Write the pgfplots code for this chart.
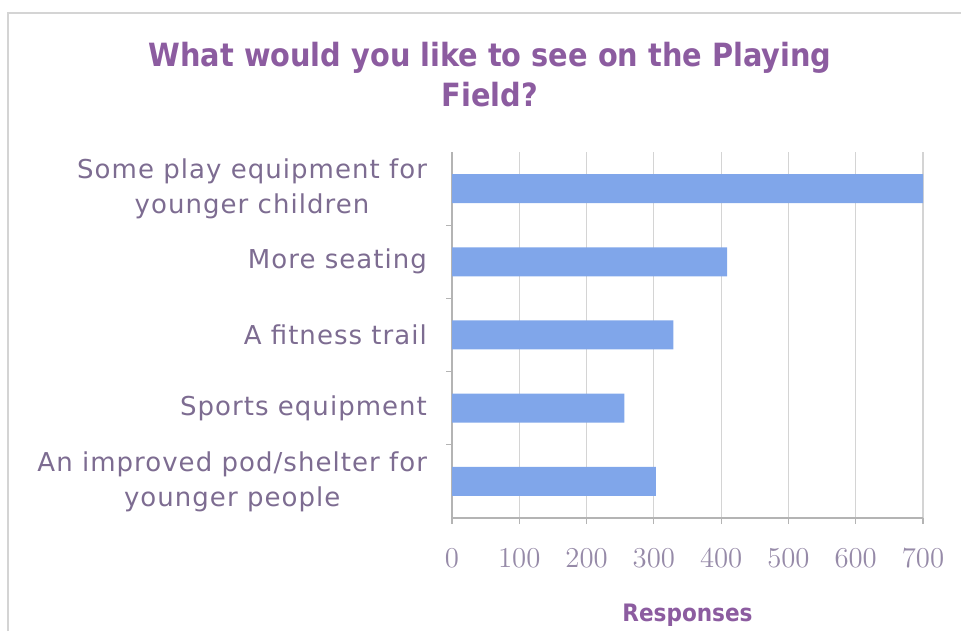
\documentclass[border=0pt]{standalone}
\usepackage{pgfplots}
\pgfplotsset{compat=1.18}
\usepackage{fontspec}
\setmainfont{DejaVu Sans}
\newfontfamily\titlefont{DejaVu Sans}[FakeStretch=0.9]
\newfontfamily\catfont{DejaVu Sans}[LetterSpace=4]

\definecolor{barblue}{RGB}{128,166,234}
\definecolor{titlepurple}{RGB}{140,92,160}
\definecolor{catpurple}{RGB}{125,108,145}
\definecolor{tickpurple}{RGB}{150,138,168}
\definecolor{gridgrey}{RGB}{212,212,212}
\definecolor{axisgrey}{RGB}{180,180,180}

\begin{document}
\begin{tikzpicture}
\path[use as bounding box] (0,0) rectangle (480.5pt,315.5pt);
\draw[gridgrey, line width=0.8pt] (4pt,0) -- (4pt,309pt) -- (480.5pt,309pt);

\node[align=center, text=titlepurple, font=\titlefont\bfseries\fontsize{16}{20}\selectfont]
  at (245pt,278pt) {What would you like to see on the Playing\\Field?};

\begin{axis}[
  at={(226pt,56.5pt)}, anchor=south west,
  scale only axis, width=235.5pt, height=183pt,
  xbar, bar width=14.5pt,
  xmin=0, xmax=700, ymin=-0.5, ymax=4.5,
  xtick={0,100,...,700},
  ytick={0,1,2,3,4},
  yticklabels={{An improved pod/shelter for\\younger people},
               {Sports equipment},
               {A fitness trail},
               {More seating},
               {Some play equipment for\\younger children}},
  minor y tick num=1,
  extra y ticks={-0.5,4.5}, extra y tick labels={},
  extra y tick style={grid=none},
  axis x line*=bottom, axis y line*=left,
  axis line style={axisgrey, line width=0.6pt},
  tick align=outside,
  major tick length=3pt, minor tick length=3pt,
  ytick style={draw=none},
  minor y tick style={draw=axisgrey, line width=0.6pt},
  extra y tick style={tick style={draw=axisgrey, line width=0.6pt}},
  xtick style={draw=axisgrey, line width=0.6pt},
  xmajorgrids, grid style={gridgrey, line width=0.6pt},
  yticklabel style={align=center, text=catpurple, font=\catfont\fontsize{13}{17.5}\selectfont, xshift=-6pt},
  xticklabel style={text=tickpurple, font=\fontsize{14.5}{16}\selectfont, yshift=-9pt},
  xlabel={Responses},
  xlabel style={text=titlepurple, font=\titlefont\bfseries\fontsize{12}{14}\selectfont, yshift=-11.5pt},
  clip=false,
]
\addplot[draw=none, fill=barblue] coordinates {
  (303,0) (256,1) (329,2) (409,3) (700,4)
};
\end{axis}
\end{tikzpicture}
\end{document}
